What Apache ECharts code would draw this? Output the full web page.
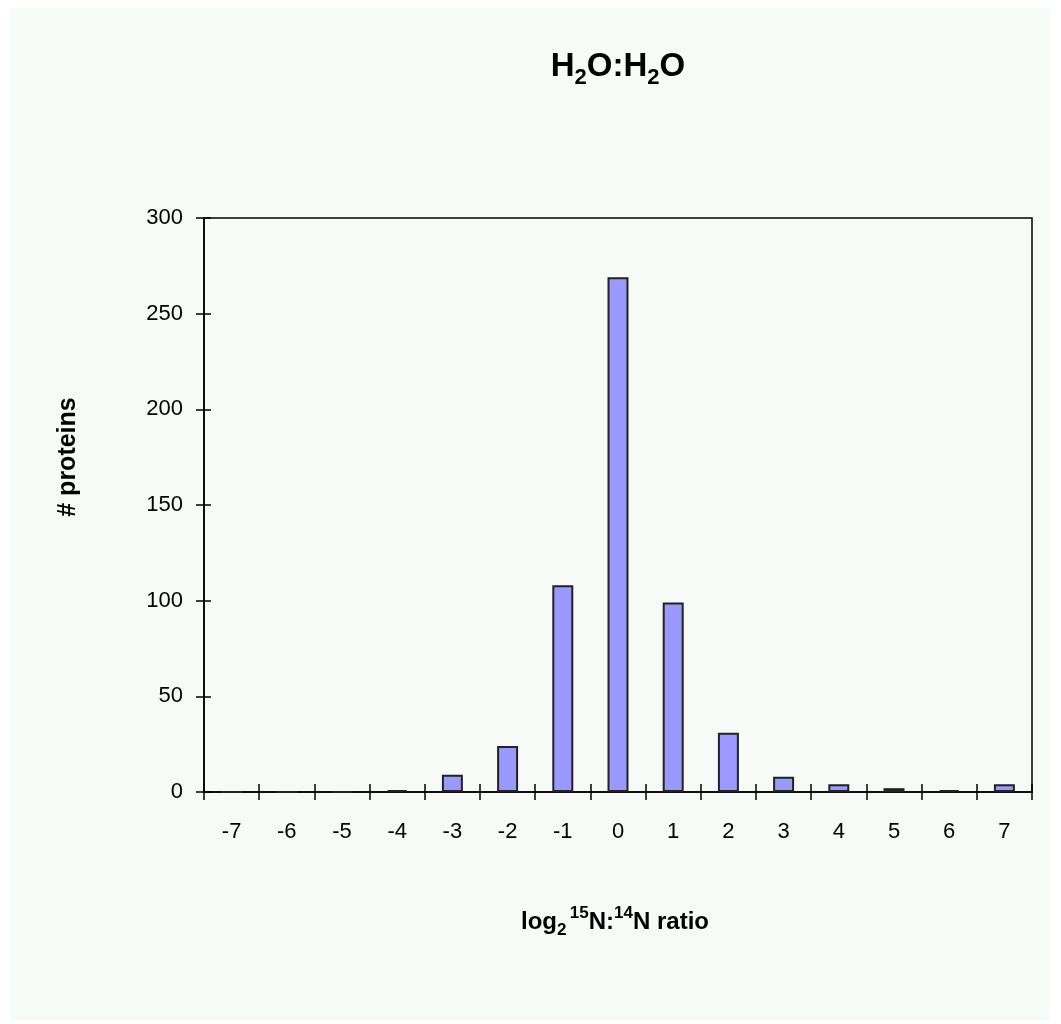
<!DOCTYPE html>
<html>
<head>
<meta charset="utf-8">
<script src="https://cdn.jsdelivr.net/npm/echarts@6/dist/echarts.min.js"></script>
<style>
  html, body { margin: 0; padding: 0; background: #ffffff; }
  #chart { position: absolute; left: 0; top: 0; width: 1061px; height: 1024px; }
</style>
</head>
<body>
<div id="chart"></div>
<script>
// log2 15N:14N ratio bins and protein counts per bin
const ratioBins = ['-7', '-6', '-5', '-4', '-3', '-2', '-1', '0', '1', '2', '3', '4', '5', '6', '7'];
const proteinCounts = [0, 0, 0, 1, 9, 24, 108, 269, 99, 31, 8, 4, 2, 1, 4];
const countTicks = { min: 0, max: 300, interval: 50 };

const labelFont = '"Liberation Sans Narrow", "Arial Narrow", "Liberation Sans", Arial, sans-serif';
const boldFont = '"Liberation Sans", Arial, sans-serif';

const chart = echarts.init(document.getElementById('chart'), null, { renderer: 'canvas' });

const gridBox = { left: 204, top: 218, width: 828, height: 574 };

const option = {
  backgroundColor: '#ffffff',
  animation: false,
  graphic: [
    {
      type: 'rect',
      shape: { x: 10, y: 8, width: 1040, height: 1012 },
      style: { fill: '#f6fbf7' },
      z: -10
    },
    {
      type: 'text',
      x: 618, y: 67,
      style: {
        text: '{b|H}{s|2}{b|O:H}{s|2}{b|O}',
        align: 'center', verticalAlign: 'middle',
        rich: {
          b: { fontFamily: boldFont, fontWeight: 'bold', fontSize: 33, lineHeight: 44, verticalAlign: 'middle', fill: '#000' },
          s: { fontFamily: boldFont, fontWeight: 'bold', fontSize: 22, lineHeight: 44, verticalAlign: 'bottom', fill: '#000' }
        }
      }
    },
    {
      type: 'text',
      x: 615, y: 922,
      style: {
        text: '{b|log}{s|2} {p|15}{b|N:}{p|14}{b|N ratio}',
        align: 'center', verticalAlign: 'middle',
        rich: {
          b: { fontFamily: boldFont, fontWeight: 'bold', fontSize: 24, lineHeight: 34, verticalAlign: 'middle', fill: '#000' },
          s: { fontFamily: boldFont, fontWeight: 'bold', fontSize: 17, lineHeight: 34, verticalAlign: 'bottom', fill: '#000' },
          p: { fontFamily: boldFont, fontWeight: 'bold', fontSize: 17, lineHeight: 34, verticalAlign: 'top', fill: '#000' }
        }
      }
    },
    {
      type: 'text',
      x: 68, y: 457,
      rotation: Math.PI / 2,
      style: {
        text: '# proteins',
        align: 'center', verticalAlign: 'middle',
        fontFamily: boldFont, fontWeight: 'bold', fontSize: 25, fill: '#000'
      }
    }
  ],
  grid: Object.assign({ show: true, borderColor: '#000', borderWidth: 1.5, backgroundColor: 'transparent' }, gridBox),
  xAxis: [
    {
      type: 'category',
      data: ratioBins,
      position: 'bottom',
      axisLine: { show: true, lineStyle: { color: '#000', width: 1.5 } },
      axisTick: { show: true, alignWithLabel: false, inside: false, length: 8, lineStyle: { color: '#000', width: 1.5 } },
      axisLabel: { color: '#000', fontFamily: labelFont, fontSize: 22, margin: 29 },
      splitLine: { show: false }
    },
    {
      // inner half of the crossing tick marks
      type: 'category',
      data: ratioBins,
      position: 'bottom',
      axisLine: { show: false },
      axisTick: { show: true, alignWithLabel: false, inside: true, length: 8, lineStyle: { color: '#000', width: 1.5 } },
      axisLabel: { show: false },
      splitLine: { show: false }
    }
  ],
  yAxis: [
    {
      type: 'value',
      min: countTicks.min, max: countTicks.max, interval: countTicks.interval,
      axisLine: { show: true, lineStyle: { color: '#000', width: 1.5 } },
      axisTick: { show: true, inside: false, length: 8, lineStyle: { color: '#000', width: 1.5 } },
      axisLabel: { color: '#000', fontFamily: labelFont, fontSize: 22, margin: 21 },
      splitLine: { show: false }
    },
    {
      type: 'value',
      position: 'left',
      min: countTicks.min, max: countTicks.max, interval: countTicks.interval,
      axisLine: { show: false },
      axisTick: { show: true, inside: true, length: 7, lineStyle: { color: '#000', width: 1.5 } },
      axisLabel: { show: false },
      splitLine: { show: false }
    }
  ],
  series: [
    {
      type: 'bar',
      data: proteinCounts,
      barWidth: '38%',
      itemStyle: { color: '#9999ff', borderColor: '#222222', borderWidth: 2 }
    }
  ]
};

chart.setOption(option);
</script>
</body>
</html>
